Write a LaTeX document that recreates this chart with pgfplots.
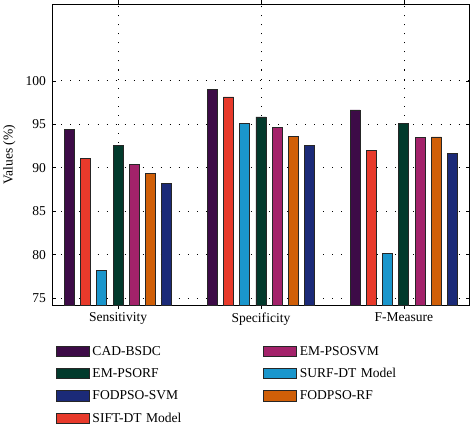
\documentclass[border=0pt]{standalone}
\usepackage{pgfplots}
\pgfplotsset{compat=1.18}
\usepackage{fontspec}
\setmainfont{Liberation Serif}
\definecolor{cPur}{HTML}{3D0B47}
\definecolor{cRed}{HTML}{E83A2B}
\definecolor{cBlu}{HTML}{1A96CC}
\definecolor{cGrn}{HTML}{023A2C}
\definecolor{cMag}{HTML}{A3226A}
\definecolor{cOra}{HTML}{D05F08}
\definecolor{cNav}{HTML}{1B2A78}
\begin{document}
\begin{tikzpicture}[font=\fontsize{13.5}{15}\selectfont]
\begin{axis}[
  scale only axis,
  width=416pt, height=300pt,
  xmin=-0.46, xmax=2.46,
  ymin=74.2, ymax=108.8,
  ytick={75,80,85,90,95,100},
  xtick={0,1,2},
  xticklabels={Sensitivity,Specificity,F-Measure},
  tick align=inside,
  major tick length=4pt,
  tick style={black, line width=0.6pt},
  axis line style={black, line width=0.8pt},
  /pgf/number format/assume math mode=true,
  tick label style={font=\fontsize{13.5}{15}\selectfont},
  yticklabel style={xshift=-3pt},
  label style={font=\fontsize{13.5}{15}\selectfont},
  ymajorgrids, xmajorgrids,
  grid style={black, line width=0.7pt, dash pattern=on 1pt off 8pt},
  ylabel={Values (\%)},
  ylabel style={yshift=3pt},
  ybar,
  bar width=10pt,
  legend columns=2,
  legend cell align=left,
  legend style={draw=none, fill=none, at={(0,-0.119)}, anchor=north west,
    font=\fontsize{13.5}{15}\selectfont,
    row sep=5.5pt,
    nodes={text width=150pt, align=left, inner sep=3pt},
    /tikz/every even column/.append style={column sep=17pt}},
  legend image code/.code={\draw[#1, line width=0.8pt] (0pt,-5pt) rectangle (33pt,5pt);},
  every axis plot/.append style={draw=black!85, line width=0.8pt},
]
\addplot[fill=cPur, forget plot, bar shift=-48.6pt] coordinates {(0,94.45) (1,99.05) (2,96.65)};
\addplot[fill=cRed, forget plot, bar shift=-32.4pt] coordinates {(0,91.05) (1,98.15) (2,91.95)};
\addplot[fill=cBlu, forget plot, bar shift=-16.2pt] coordinates {(0,78.15) (1,95.05) (2,80.2)};
\addplot[fill=cGrn, forget plot, bar shift=0pt] coordinates {(0,92.55) (1,95.85) (2,95.15)};
\addplot[fill=cMag, forget plot, bar shift=16.2pt] coordinates {(0,90.35) (1,94.65) (2,93.45)};
\addplot[fill=cOra, forget plot, bar shift=32.4pt] coordinates {(0,89.4) (1,93.65) (2,93.55)};
\addplot[fill=cNav, forget plot, bar shift=48.6pt] coordinates {(0,88.25) (1,92.6) (2,91.65)};
\addlegendimage{fill=cPur, draw=black!85}\addlegendentry{CAD-BSDC}
\addlegendimage{fill=cMag, draw=black!85}\addlegendentry{EM-PSOSVM}
\addlegendimage{fill=cGrn, draw=black!85}\addlegendentry{EM-PSORF}
\addlegendimage{fill=cBlu, draw=black!85}\addlegendentry{SURF-DT Model}
\addlegendimage{fill=cNav, draw=black!85}\addlegendentry{FODPSO-SVM}
\addlegendimage{fill=cOra, draw=black!85}\addlegendentry{FODPSO-RF}
\addlegendimage{fill=cRed, draw=black!85}\addlegendentry{SIFT-DT Model}
\end{axis}
\end{tikzpicture}
\end{document}
